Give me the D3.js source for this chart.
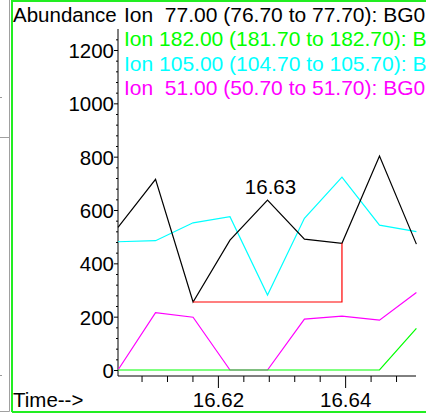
<!DOCTYPE html>
<html lang="en">
<head>
    <meta charset="UTF-8">
    <title>Extracted ion chromatogram</title>
    <script src="https://cdnjs.cloudflare.com/ajax/libs/d3/7.8.5/d3.min.js"></script>
    <style>
        body {
            margin: 0;
            padding: 0;
            background-color: #fff;
            overflow: hidden;
        }
        svg text {
            font-family: "Liberation Sans", Arial, sans-serif;
            font-size: 20.5px;
            white-space: pre;
        }
        svg text.legend {
            font-size: 21px;
        }
        .trace {
            fill: none;
            stroke-width: 1.2px;
        }
        .axis path, .axis line {
            stroke: #000;
        }
    </style>
</head>
<body>
    <div id="chart"></div>
    <script>
        // retention times (min) of the scans
        const times = [16.6043, 16.6102, 16.6161, 16.6219, 16.6278, 16.6336, 16.6395, 16.6454, 16.6512];

        // abundance per ion
        const ion77  = [535, 715, 255, 487, 637, 491, 475, 802, 472];
        const ion182 = [0, 0, 0, 0, 0, 0, 0, 0, 156];
        const ion105 = [481, 485, 552, 575, 281, 569, 723, 543, 519];
        const ion51  = [0, 215, 198, 0, 0, 191, 202, 187, 291];

        const legendLabels = [
            "Ion  77.00 (76.70 to 77.70): BG0",
            "Ion 182.00 (181.70 to 182.70): BG0",
            "Ion 105.00 (104.70 to 105.70): BG0",
            "Ion  51.00 (50.70 to 51.70): BG0"
        ];
        const colors = ["#000000", "#00ff00", "#00ffff", "#ff00ff"];

        // integrated peak of ion 77 (scan indices) and its apex label
        const peakStart = 2, peakEnd = 6, apex = 4;
        const apexLabel = "16.63";

        const yMajorTicks = [0, 200, 400, 600, 800, 1000, 1200];
        const xMajorTicks = [16.62, 16.64];
        const xTickLabels = ["16.62", "16.64"];

        const W = 426, H = 415;

        const svg = d3.select("#chart").append("svg")
            .attr("width", W)
            .attr("height", H);

        // window borders
        svg.append("path")
            .attr("d", "M9.5,0 V411.5 M0,137.5 H9.5 M0,411.5 H9.5")
            .attr("fill", "none")
            .attr("stroke", "#a0a0a0");
        svg.append("rect").attr("x", 0).attr("y", 97).attr("width", 2).attr("height", 1).attr("fill", "#999");
        svg.append("rect").attr("x", 0).attr("y", 375).attr("width", 2).attr("height", 1).attr("fill", "#999");
        svg.append("path")
            .attr("d", "M12,0 V412 M12,1 H426 M12,412 H426")
            .attr("fill", "none")
            .attr("stroke", "#22ee22")
            .attr("stroke-width", 2);

        const x = d3.scaleLinear()
            .domain([times[0], times[times.length - 1]])
            .range([118, 416.4]);

        const y = d3.scaleLinear()
            .domain([-22.5, 1278.75])
            .range([376, 29]);

        // y axis
        const yMinor = d3.range(40, 1280, 40).filter(v => v % 200 !== 0);
        svg.append("line")
            .attr("x1", 118).attr("x2", 118)
            .attr("y1", y.range()[1]).attr("y2", y.range()[0])
            .attr("stroke", "#000");
        svg.append("g")
            .attr("class", "axis")
            .attr("transform", "translate(118,0)")
            .call(d3.axisLeft(y).tickValues(yMinor).tickSize(2).tickFormat(""))
            .call(g => g.select(".domain").remove());
        svg.append("g")
            .attr("class", "axis")
            .attr("transform", "translate(118,0)")
            .call(d3.axisLeft(y).tickValues(yMajorTicks).tickSize(4).tickPadding(0).tickFormat(d3.format("d")))
            .call(g => g.select(".domain").remove())
            .call(g => g.selectAll("text")
                .attr("fill", "#000")
                .attr("dy", "0.36em")
                .style("font-size", "20.5px")
                .style("font-family", "'Liberation Sans', Arial, sans-serif"));

        // x axis
        const xMinor = d3.range(16.608, 16.65, 0.004).filter(v => Math.abs(v - 16.62) > 1e-6 && Math.abs(v - 16.64) > 1e-6);
        svg.append("line")
            .attr("x1", 118).attr("x2", 416)
            .attr("y1", 376).attr("y2", 376)
            .attr("stroke", "#000");
        svg.append("g")
            .attr("class", "axis")
            .attr("transform", "translate(0,376)")
            .call(d3.axisBottom(x).tickValues(xMinor).tickSize(6).tickFormat(""))
            .call(g => g.select(".domain").remove());
        svg.append("g")
            .attr("class", "axis")
            .attr("transform", "translate(0,376)")
            .call(d3.axisBottom(x).tickValues(xMajorTicks).tickSize(12).tickPadding(4.5)
                .tickFormat((d, i) => xTickLabels[i]))
            .call(g => g.select(".domain").remove())
            .call(g => g.selectAll("text")
                .attr("fill", "#000")
                .style("font-size", "20.5px")
                .style("font-family", "'Liberation Sans', Arial, sans-serif"));

        // traces
        const line = d3.line()
            .x((d, i) => x(times[i]))
            .y(d => y(d));

        const series = [ion77, ion182, ion105, ion51];
        const drawOrder = [3, 2, 1, 0];
        drawOrder.forEach(k => {
            svg.append("path")
                .attr("class", "trace")
                .attr("stroke", colors[k])
                .attr("d", line(series[k]));
        });

        // integration baseline
        svg.append("path")
            .attr("fill", "none")
            .attr("stroke", "#ff0000")
            .attr("stroke-width", 1.2)
            .attr("d", `M${x(times[peakStart])},${y(ion77[peakStart])}
                        L${x(times[peakEnd])},${y(ion77[peakStart])}
                        L${x(times[peakEnd])},${y(ion77[peakEnd])}`);

        svg.append("text")
            .attr("x", x(times[apex]) + 3)
            .attr("y", y(ion77[apex]) - 6)
            .attr("text-anchor", "middle")
            .attr("fill", "#000")
            .text(apexLabel);

        // labels
        svg.append("text")
            .attr("x", 13)
            .attr("y", 21.5)
            .attr("fill", "#000")
            .text("Abundance");

        svg.append("text")
            .attr("x", 13)
            .attr("y", 406.5)
            .attr("fill", "#000")
            .text("Time-->");

        svg.selectAll(".legend")
            .data(legendLabels)
            .enter().append("text")
            .attr("class", "legend")
            .attr("x", 124)
            .attr("y", (d, i) => 21.5 + i * 24.5)
            .attr("fill", (d, i) => colors[i])
            .text(d => d);
    </script>
</body>
</html>
